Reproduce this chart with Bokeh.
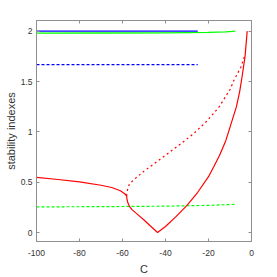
from bokeh.plotting import figure
from bokeh.models import Range1d, LinearAxis, FixedTicker, CustomJSTickFormatter
from bokeh.embed import file_html
from bokeh.resources import INLINE

# ---- data ----
x_ticks = [-100, -80, -60, -40, -20, 0]
x_tick_labels = ["-100", "-80", "-60", "-40", "-20", "0"]
y_ticks = [0, 0.5, 1, 1.5, 2]
y_tick_labels = ["0", "0.5", "1", "1.5", "2"]
x_title = "C"
y_title = "stability indexes"

blue_solid_c = [-100, -25]
blue_solid_y = [2.0, 2.0]
blue_dash_c = [-100, -25]
blue_dash_y = [1.667, 1.667]
green_solid_c = [-100, -70, -40, -20, -12, -9, -7.5]
green_solid_y = [1.981, 1.982, 1.984, 1.988, 1.993, 1.997, 2.0]
green_dash_c = [-100, -70, -40, -20, -7.5]
green_dash_y = [0.255, 0.257, 0.262, 0.270, 0.280]
red_solid_c = [-100, -90, -80, -70, -65, -61, -59, -58.1, -57.9, -57.5, -56.8, -55.5,
               -53, -50, -47, -43.7, -40, -35, -30, -25, -20, -17.5, -15, -12, -9.8,
               -7, -5.5, -4.3, -3, -2]
red_solid_y = [0.547, 0.527, 0.503, 0.470, 0.447, 0.415, 0.385, 0.365, 0.330, 0.295,
               0.260, 0.225, 0.180, 0.125, 0.065, 0.0, 0.060, 0.160, 0.270, 0.400,
               0.555, 0.655, 0.760, 0.910, 1.060, 1.250, 1.400, 1.560, 1.750, 2.0]
red_dash_c = [-58.1, -57.8, -57.4, -56.8, -55, -50, -43, -38, -33, -27, -20.6, -15,
              -10, -8.2, -5, -3.1]
red_dash_y = [0.365, 0.41, 0.45, 0.48, 0.52, 0.61, 0.72, 0.80, 0.88, 0.98, 1.11, 1.25,
              1.42, 1.51, 1.64, 1.76]

FONT = "Liberation Sans"
AXIS_GRAY = "#8f8f8f"
TEXT_GRAY = "#333333"

p = figure(width=277, height=277, output_backend="svg", toolbar_location=None,
           x_range=Range1d(-100, 0), y_range=Range1d(-0.089, 2.106),
           min_border_left=36, min_border_right=26, min_border_top=20, min_border_bottom=36,
           x_axis_location=None, y_axis_location=None)
p.outline_line_color = None
p.xgrid.visible = False
p.ygrid.visible = False
p.background_fill_color = "white"
p.border_fill_color = "white"


def style_axis(ax, ticks, labels=None, standoff=4):
    ax.ticker = FixedTicker(ticks=ticks)
    ax.axis_line_color = AXIS_GRAY
    ax.axis_line_width = 1
    ax.major_tick_line_color = AXIS_GRAY
    ax.major_tick_in = 3
    ax.major_tick_out = 0
    ax.minor_tick_line_color = None
    ax.major_label_text_font = FONT
    ax.major_label_text_font_size = "8.5px"
    ax.major_label_text_color = TEXT_GRAY
    ax.major_label_standoff = standoff
    ax.axis_label_text_font = FONT
    ax.axis_label_text_font_size = "11px"
    ax.axis_label_text_font_style = "normal"
    ax.axis_label_text_color = TEXT_GRAY
    if labels is None:
        ax.formatter = CustomJSTickFormatter(code="return ''")
    else:
        ax.major_label_overrides = {t: l for t, l in zip(ticks, labels)}


bottom = LinearAxis(axis_label=x_title)
style_axis(bottom, x_ticks, x_tick_labels, standoff=8)
bottom.axis_label_standoff = 4
p.add_layout(bottom, "below")
left = LinearAxis(axis_label=y_title)
style_axis(left, y_ticks, y_tick_labels, standoff=4)
left.axis_label_standoff = 1
p.add_layout(left, "left")
top = LinearAxis()
style_axis(top, x_ticks, None, standoff=0)
p.add_layout(top, "above")
right = LinearAxis()
style_axis(right, y_ticks, None, standoff=0)
p.add_layout(right, "right")

p.line(blue_solid_c, blue_solid_y, line_color="#0000ff", line_width=1.3)
p.line(green_solid_c, green_solid_y, line_color="#00ff00", line_width=1.3)
p.line(blue_dash_c, blue_dash_y, line_color="#0000ff", line_width=1.2, line_dash="3 2")
p.line(green_dash_c, green_dash_y, line_color="#00ff00", line_width=1.2, line_dash="3 2")
p.line(red_solid_c, red_solid_y, line_color="#ff0000", line_width=1.2)
p.line(red_dash_c, red_dash_y, line_color="#ff0000", line_width=1.2, line_dash="2 3")

open("out.html", "w").write(file_html(p, INLINE))
